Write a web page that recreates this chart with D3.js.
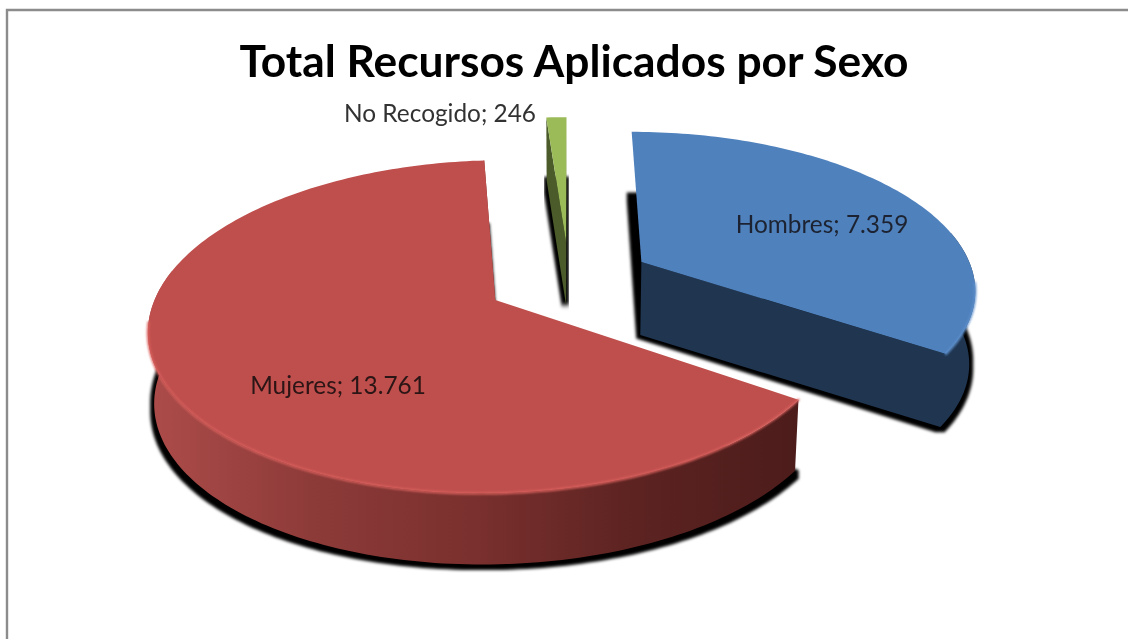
<!DOCTYPE html>
<html><head><meta charset="utf-8">
<style>html,body{margin:0;padding:0;background:#fff}svg{display:block}text{font-family:Lato,"Open Sans",sans-serif}</style>
<script src="https://cdn.jsdelivr.net/npm/d3@7"></script></head>
<body><script>
const titleText = "Total Recursos Aplicados por Sexo";
const categories = ["Hombres", "Mujeres", "No Recogido"];
const seriesValues = [7359, 13761, 246];
const valueLabels = ["7.359", "13.761", "246"];
const topColors = ["#4f81bd", "#bf504d", "#9bbb59"];
const rimColors = ["#5f90cc", "#dc625e", "#9bbb59"];
const wallStops = [["#1f3550", "#1f3550"], ["#ad4c4a", "#8d3b39", "#7a302e", "#5c2321", "#4c1c1b"], ["#46562a", "#3e4c22"]];
const startFaces = [null, null, "#4c5c2c"];
const sliceDepths = [73, 71, 63];
const shadowApexLift = [0, 0, -9];
const labelX = [822, 338, 536];
const labelY = [233, 394, 122];
const labelAnchor = ["middle", "middle", "end"];
const labelColors = ["#1c2430", "#2c1414", "#333"];

const W = 1128, H = 639;
const cx = 569, cy = 280, Rx = 334, Ry = 156, persp = 0.158, explode = 0.25;
const lowerScaleX = 0.985;
const shadowOffset = 73, shadowRy = 161, shadowPersp = 0.133;

const svg = d3.select("body").append("svg").attr("width", W).attr("height", H);
const defs = svg.append("defs");
const sf = defs.append("filter").attr("id", "shadow").attr("x", "-10%").attr("y", "-10%").attr("width", "120%").attr("height", "120%");
sf.append("feMorphology").attr("operator", "dilate").attr("radius", 3.5);
sf.append("feGaussianBlur").attr("stdDeviation", 1.6);
defs.append("filter").attr("id", "soft").append("feGaussianBlur").attr("stdDeviation", 1.1);
defs.append("filter").attr("id", "edge").append("feGaussianBlur").attr("stdDeviation", 0.45);
defs.append("filter").attr("id", "textsoft").append("feGaussianBlur").attr("stdDeviation", 0.35);

svg.append("rect").attr("width", W).attr("height", H).attr("fill", "#fff");
svg.append("path").attr("d", d3.line()([[7, H], [7, 10], [W, 10]]))
  .attr("fill", "none").attr("stroke", "#8c8c8c").attr("stroke-width", 2.4);

const pie = d3.pie().sort(null).startAngle(0).endAngle(2 * Math.PI);
const slices = pie(seriesValues);

const project = (X, Y) => {
  const w = 1 - persp * Y;
  return [cx + Rx * X / w, cy + Ry * Y / w];
};
const projectLow = (X, Y, depth) => {
  const p = project(X, Y);
  return [cx + (p[0] - cx) * lowerScaleX, p[1] + depth];
};
const projectShadow = (X, Y) => {
  const w = 1 - persp * Y, ws = 1 - shadowPersp * Y;
  return [cx + Rx * X / w * lowerScaleX, cy + shadowRy * Y / ws + shadowOffset];
};
const line = d3.line();

slices.forEach((d, i) => {
  const mid = (d.startAngle + d.endAngle) / 2;
  d.ox = explode * Math.sin(mid);
  d.oy = -explode * Math.cos(mid);
  const n = Math.max(3, Math.ceil((d.endAngle - d.startAngle) / 0.02));
  d.angles = d3.range(n + 1).map(k => d.startAngle + (d.endAngle - d.startAngle) * k / n);
  d.rim = d.angles.map(a => [d.ox + Math.sin(a), d.oy - Math.cos(a), a]);
  d.apex = [d.ox, d.oy];
  const g = defs.append("linearGradient").attr("id", "wall" + i).attr("gradientUnits", "userSpaceOnUse");
  const xs = d.rim.map(p => project(p[0], p[1])[0]);
  g.attr("x1", d3.min(xs)).attr("x2", d3.max(xs)).attr("y1", 0).attr("y2", 0);
  wallStops[i].forEach((c, k, arr) => g.append("stop").attr("offset", k / (arr.length - 1)).attr("stop-color", c));
});

const drawOrder = [0, 2, 1];
const layer = svg.append("g");

layer.append("g").selectAll("path").data(drawOrder).join("path")
  .attr("d", i => {
    const d = slices[i];
    const a = projectShadow(d.apex[0], d.apex[1]);
    const pts = [[a[0], a[1] + shadowApexLift[i]], ...d.rim.map(p => projectShadow(p[0], p[1]))];
    return line(pts) + "Z";
  })
  .attr("fill", "#000").attr("filter", "url(#shadow)");

drawOrder.forEach(i => {
  const d = slices[i], depth = sliceDepths[i];
  const g = layer.append("g");
  const up = p => project(p[0], p[1]);
  const low = p => projectLow(p[0], p[1], depth);
  const wallFill = `url(#wall${i})`;
  const first = d.rim[0], last = d.rim[d.rim.length - 1];
  if (startFaces[i]) g.append("path").attr("d", line([up(first), up(d.apex), low(d.apex), low(first)]) + "Z")
    .attr("fill", startFaces[i]).attr("filter", "url(#edge)");
  const front = d.rim.filter(p => -Math.cos(p[2]) > -0.2);
  const glowArc = d.rim.filter(p => -Math.cos(p[2]) > 0.12);
  const endFace = [up(d.apex), up(last), ...(front.length > 1
    ? [...front.slice().reverse().map(up), ...front.map(low)]
    : []), low(last), low(d.apex)];
  g.append("path").attr("d", line(endFace) + "Z")
    .attr("fill", startFaces[i] || wallFill);
  g.append("path").attr("d", line([d.apex, ...d.rim].map(up)) + "Z")
    .attr("fill", topColors[i]).attr("filter", "url(#edge)");
  if (glowArc.length > 1) g.append("path").attr("d", line(glowArc.map(p => project(p[0], p[1]))))
    .attr("fill", "none").attr("stroke", rimColors[i]).attr("stroke-width", 2.2)
    .attr("stroke-linecap", "round").attr("filter", "url(#soft)");
});

const texts = svg.append("g").attr("filter", "url(#textsoft)");
texts.append("text").attr("x", 574).attr("y", 77).attr("text-anchor", "middle")
  .attr("font-size", 44.3).attr("font-weight", 700).attr("fill", "#000").text(titleText);

texts.append("g").selectAll("text").data(categories).join("text")
  .attr("x", (d, i) => labelX[i]).attr("y", (d, i) => labelY[i])
  .attr("text-anchor", (d, i) => labelAnchor[i])
  .attr("font-size", 24.4).attr("fill", (d, i) => labelColors[i])
  .text((d, i) => `${d}; ${valueLabels[i]}`);
</script></body></html>
